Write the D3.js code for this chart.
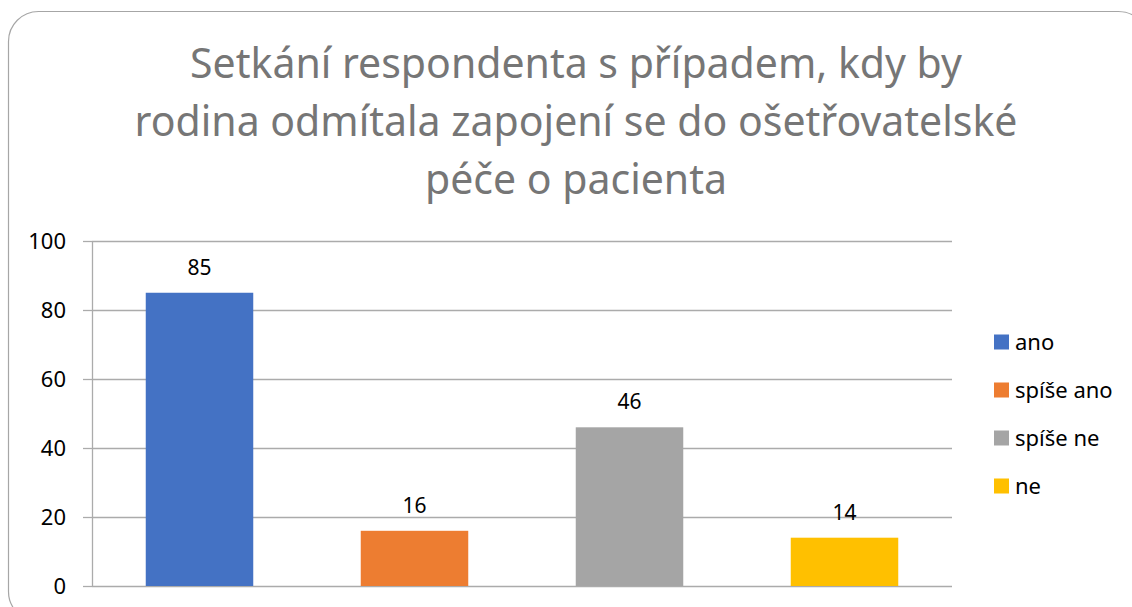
<!DOCTYPE html>
<html>
<head>
<meta charset="utf-8">
<script src="https://cdn.jsdelivr.net/npm/d3@7"></script>
<style>
  body { margin: 0; background: #fff; }
  text { font-family: "Noto Sans", "Open Sans", sans-serif; }
</style>
</head>
<body>
<div id="chart"></div>
<script>
// data
var categories = ["ano", "spíše ano", "spíše ne", "ne"];
var values = [85, 16, 46, 14];
var colors = ["#4472C4", "#ED7D31", "#A5A5A5", "#FFC000"];
var yTicks = [0, 20, 40, 60, 80, 100];
var titleLines = [
  "Setkání respondenta s případem, kdy by",
  "rodina odmítala zapojení se do ošetřovatelské",
  "péče o pacienta"
];

var W = 1132, H = 607;
var svg = d3.select("#chart").append("svg")
  .attr("width", W)
  .attr("height", H);

// outer rounded frame
svg.append("rect")
  .attr("x", 8.5).attr("y", 11.5)
  .attr("width", 1140).attr("height", 610)
  .attr("rx", 30).attr("ry", 30)
  .attr("fill", "#fff")
  .attr("stroke", "#a6a6a6")
  .attr("stroke-width", 1.2);

// title
svg.append("g").selectAll("text")
  .data(titleLines)
  .enter().append("text")
  .attr("x", 576)
  .attr("y", function (d, i) { return 78 + i * 58; })
  .attr("text-anchor", "middle")
  .attr("fill", "#767676")
  .style("font-size", "41px")
  .text(function (d) { return d; });

var plot = { left: 92, right: 952, top: 241, bottom: 586 };

var x = d3.scaleBand()
  .domain(categories)
  .range([plot.left, plot.right])
  .paddingInner(0.5)
  .paddingOuter(0.25);

var y = d3.scaleLinear()
  .domain([0, 100])
  .range([plot.bottom, plot.top]);

// gridlines
svg.append("g")
  .attr("transform", "translate(" + plot.left + ",0)")
  .call(d3.axisLeft(y).tickValues(yTicks)
    .tickSize(-(plot.right - plot.left)).tickFormat(""))
  .call(function (g) { g.select(".domain").remove(); })
  .selectAll("line")
  .attr("stroke", "#ababab")
  .attr("stroke-width", 1.3);

// y axis with outside ticks
var yAxis = svg.append("g")
  .attr("transform", "translate(" + plot.left + ",0)")
  .call(d3.axisLeft(y).tickValues(yTicks).tickSize(9).tickPadding(17).tickSizeOuter(0));
yAxis.select(".domain").attr("stroke", "#ababab").attr("stroke-width", 1.3);
yAxis.selectAll(".tick line").attr("stroke", "#ababab").attr("stroke-width", 1.3);
yAxis.selectAll(".tick text")
  .attr("fill", "#000")
  .style("font-size", "22px")
  .style("font-family", "'Noto Sans', sans-serif");

// bars
svg.append("g").selectAll("rect")
  .data(values)
  .enter().append("rect")
  .attr("x", function (d, i) { return x(categories[i]); })
  .attr("y", function (d) { return y(d); })
  .attr("width", x.bandwidth())
  .attr("height", function (d) { return y(0) - y(d); })
  .attr("fill", function (d, i) { return colors[i]; });

// data labels
svg.append("g").selectAll("text")
  .data(values)
  .enter().append("text")
  .attr("x", function (d, i) { return x(categories[i]) + x.bandwidth() / 2; })
  .attr("y", function (d) { return y(d) - 18; })
  .attr("text-anchor", "middle")
  .attr("fill", "#000")
  .style("font-size", "21px")
  .text(function (d) { return d; });

// legend
var legend = svg.append("g").selectAll("g")
  .data(categories)
  .enter().append("g")
  .attr("transform", function (d, i) { return "translate(994," + (342 + i * 48) + ")"; });

legend.append("rect")
  .attr("x", 0).attr("y", -7.5)
  .attr("width", 15).attr("height", 15)
  .attr("fill", function (d, i) { return colors[i]; });

legend.append("text")
  .attr("x", 21)
  .attr("y", 7.5)
  .attr("fill", "#000")
  .style("font-size", "22px")
  .text(function (d) { return d; });
</script>
</body>
</html>
